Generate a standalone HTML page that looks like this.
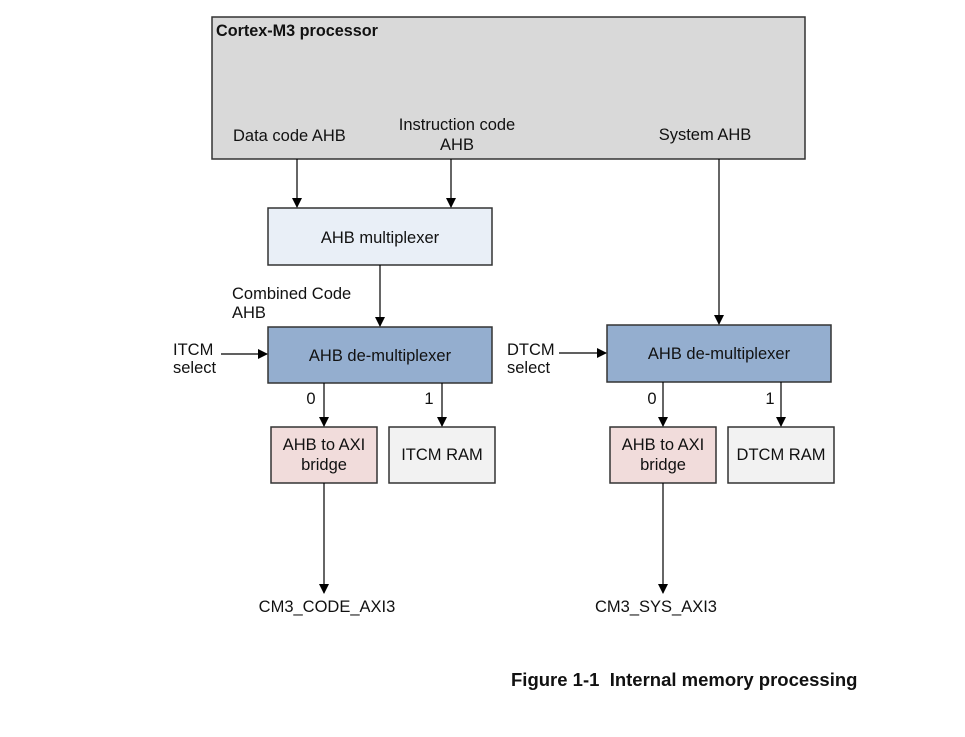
<!DOCTYPE html>
<html><head><meta charset="utf-8"><style>
html,body{margin:0;padding:0;background:#fff;}
svg text{font-family:"Liberation Sans",Arial,sans-serif;fill:#111;}
</style></head><body>
<svg width="965" height="732" viewBox="0 0 965 732" xmlns="http://www.w3.org/2000/svg">
<defs><marker id="a" markerWidth="10" markerHeight="10" refX="9" refY="5" orient="auto" markerUnits="userSpaceOnUse"><path d="M0,0 L10,5 L0,10 z" fill="#000"/></marker></defs>
<g stroke="#333" stroke-width="1.5">
<rect x="212" y="17" width="593" height="142" fill="#d9d9d9"/>
<rect x="268" y="208" width="224" height="57" fill="#e9eff7"/>
<rect x="268" y="327" width="224" height="56" fill="#94aecf"/>
<rect x="607" y="325" width="224" height="57" fill="#94aecf"/>
<rect x="271" y="427" width="106" height="56" fill="#f1dcdb"/>
<rect x="389" y="427" width="106" height="56" fill="#f2f2f2"/>
<rect x="610" y="427" width="106" height="56" fill="#f1dcdb"/>
<rect x="728" y="427" width="106" height="56" fill="#f2f2f2"/>
</g>
<g stroke="#000" stroke-width="1.2" marker-end="url(#a)">
<line x1="297" y1="159" x2="297" y2="207"/>
<line x1="451" y1="159" x2="451" y2="207"/>
<line x1="380" y1="265" x2="380" y2="326"/>
<line x1="719" y1="159" x2="719" y2="324"/>
<line x1="221" y1="354" x2="267" y2="354"/>
<line x1="559" y1="353" x2="606" y2="353"/>
<line x1="324" y1="383" x2="324" y2="426"/>
<line x1="442" y1="383" x2="442" y2="426"/>
<line x1="663" y1="382" x2="663" y2="426"/>
<line x1="781" y1="382" x2="781" y2="426"/>
<line x1="324" y1="483" x2="324" y2="593"/>
<line x1="663" y1="483" x2="663" y2="593"/>
</g>
<g font-size="16.5">
<text x="216" y="36" font-weight="bold" font-size="16.2">Cortex-M3 processor</text>
<text x="233" y="141">Data code AHB</text>
<text x="457" y="130" text-anchor="middle">Instruction code</text>
<text x="457" y="150" text-anchor="middle">AHB</text>
<text x="705" y="140" text-anchor="middle">System AHB</text>
<text x="380" y="243" text-anchor="middle">AHB multiplexer</text>
<text x="232" y="299">Combined Code</text>
<text x="232" y="318">AHB</text>
<text x="380" y="361" text-anchor="middle">AHB de-multiplexer</text>
<text x="719" y="359" text-anchor="middle">AHB de-multiplexer</text>
<text x="173" y="355">ITCM</text>
<text x="173" y="373">select</text>
<text x="507" y="355">DTCM</text>
<text x="507" y="373">select</text>
<text x="311" y="404" text-anchor="middle">0</text>
<text x="429" y="404" text-anchor="middle">1</text>
<text x="652" y="404" text-anchor="middle">0</text>
<text x="770" y="404" text-anchor="middle">1</text>
<text x="324" y="450" text-anchor="middle">AHB to AXI</text>
<text x="324" y="470" text-anchor="middle">bridge</text>
<text x="442" y="460" text-anchor="middle">ITCM RAM</text>
<text x="663" y="450" text-anchor="middle">AHB to AXI</text>
<text x="663" y="470" text-anchor="middle">bridge</text>
<text x="781" y="460" text-anchor="middle">DTCM RAM</text>
<text x="327" y="612" text-anchor="middle">CM3_CODE_AXI3</text>
<text x="656" y="612" text-anchor="middle">CM3_SYS_AXI3</text>
<text x="511" y="686" font-size="18.5" font-weight="bold">Figure 1-1&#160; Internal memory processing</text>
</g>
</svg>
</body></html>
